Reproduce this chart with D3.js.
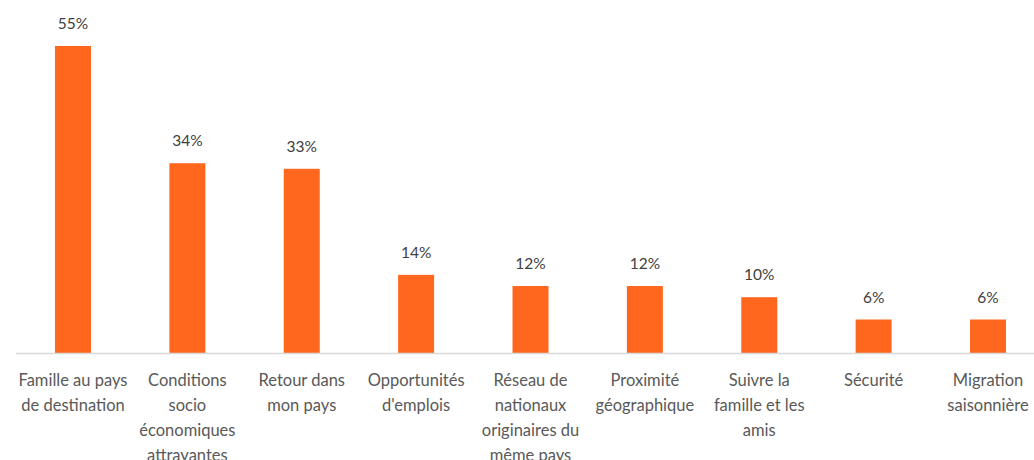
<!DOCTYPE html>
<html><head><meta charset="utf-8">
<script src="https://cdn.jsdelivr.net/npm/d3@7"></script>
<style>body{margin:0;background:#fff}svg{display:block}</style>
</head><body>
<script>
const categories = [
  ["Famille au pays","de destination"],
  ["Conditions","socio","économiques","attrayantes"],
  ["Retour dans","mon pays"],
  ["Opportunités","d'emplois"],
  ["Réseau de","nationaux","originaires du","même pays"],
  ["Proximité","géographique"],
  ["Suivre la","famille et les","amis"],
  ["Sécurité"],
  ["Migration","saisonnière"]
];
const values = [55, 34, 33, 14, 12, 12, 10, 6, 6];
const valueLabels = ["55%","34%","33%","14%","12%","12%","10%","6%","6%"];

const W = 1034, H = 460;
const svg = d3.select("body").append("svg").attr("width", W).attr("height", H);
const font = "Lato, 'Open Sans', sans-serif";
const idx = d3.range(values.length);
const pad = 1 - 36/114.4;
const x = d3.scaleBand().domain(idx).range([15.8, 1045.2]).paddingInner(pad).paddingOuter(pad/2);
const y = d3.scaleLinear().domain([0, 55]).range([353, 46]);

svg.append("g").selectAll("rect").data(values).join("rect")
  .attr("x", (d,i) => x(i)).attr("width", x.bandwidth())
  .attr("y", d => y(d)).attr("height", d => y(0) - y(d))
  .attr("fill", "#FF671F");

svg.append("line").attr("x1", 16).attr("x2", W).attr("y1", y(0)+0.5).attr("y2", y(0)+0.5)
  .attr("stroke", "#d9d9d9").attr("stroke-width", 1.5);

svg.append("g").selectAll("text").data(valueLabels).join("text")
  .attr("x", (d,i) => x(i) + x.bandwidth()/2)
  .attr("y", (d,i) => y(values[i]) - 17)
  .attr("text-anchor", "middle").attr("font-family", font).attr("font-size", 15.5)
  .attr("fill", "#404040").text(d => d);

const lab = svg.append("g").selectAll("text").data(categories).join("text")
  .attr("text-anchor", "middle").attr("font-family", font).attr("font-size", 16.5)
  .attr("fill", "#595959");
lab.each(function(lines, i) {
  d3.select(this).selectAll("tspan").data(lines).join("tspan")
    .attr("x", x(i) + x.bandwidth()/2)
    .attr("y", (d,j) => 386 + j*25)
    .text(d => d);
});
</script>
</body></html>
